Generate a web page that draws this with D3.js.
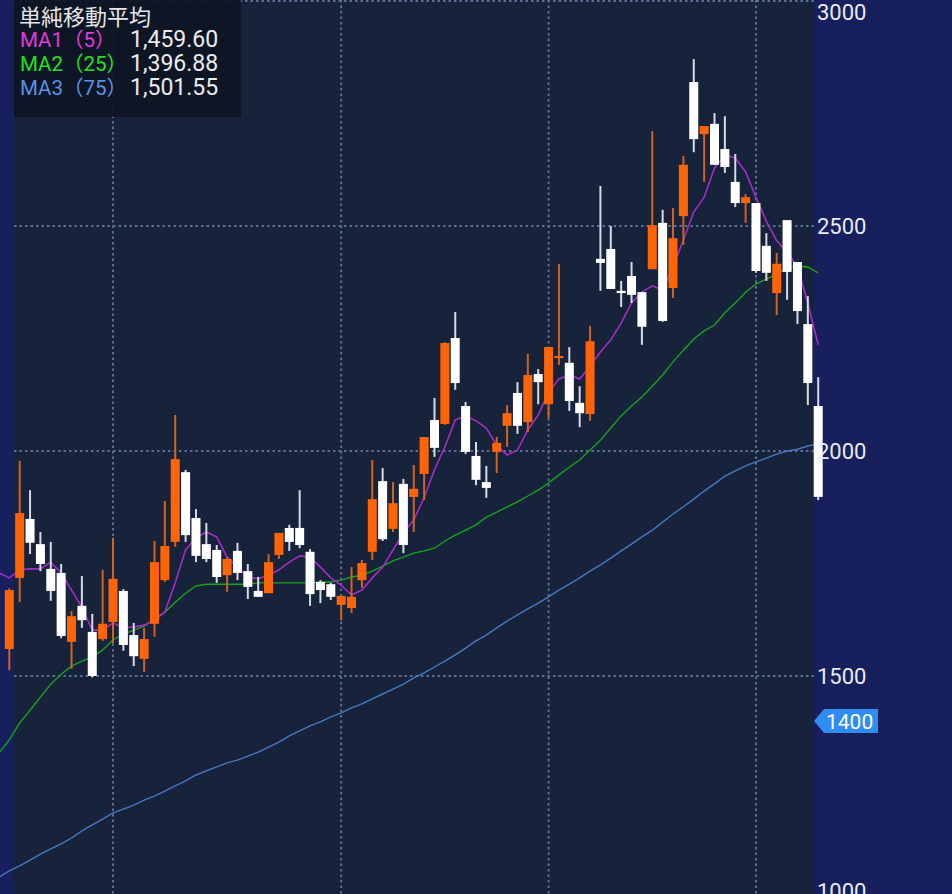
<!DOCTYPE html>
<html><head><meta charset="utf-8">
<script src="https://cdn.jsdelivr.net/npm/d3@7"></script>
<style>html,body{margin:0;padding:0;background:#171f5c;overflow:hidden}</style>
</head><body>
<svg id="c" width="952" height="894"></svg>
<script>
// ---- data ----
const opens  = [1560,1718,1849,1793,1738,1729,1576,1656,1598,1582,1620,1689,1591,1538,1616,1713,1798,1953,1851,1793,1780,1724,1778,1733,1689,1684,1769,1829,1829,1776,1709,1704,1658,1651,1713,1776,1933,1827,1927,1898,1949,2069,2060,2251,2100,1989,1931,1998,2056,2129,2064,2171,2104,2207,2196,2107,2082,2427,2449,2356,2389,2353,2404,2507,2362,2522,2820,2704,2727,2671,2598,2551,2551,2456,2351,2513,2420,2282,2100];
const highs  = [1695,1978,1913,1820,1798,1749,1644,1722,1638,1736,1807,1693,1618,1607,1800,1889,2080,1958,1871,1840,1791,1764,1796,1749,1720,1771,1818,1836,1913,1782,1713,1707,1678,1742,1758,1980,1962,1931,1938,1969,2031,2118,2242,2309,2109,2020,1967,2031,2102,2153,2216,2182,2231,2416,2231,2144,2278,2589,2500,2378,2420,2353,2711,2536,2540,2656,2871,2722,2751,2744,2660,2571,2551,2484,2440,2513,2420,2344,2164];
const lows   = [1513,1664,1771,1733,1667,1584,1516,1607,1497,1578,1573,1556,1522,1509,1587,1709,1787,1798,1753,1753,1707,1687,1713,1671,1676,1684,1760,1778,1784,1656,1662,1669,1624,1640,1696,1758,1800,1820,1773,1820,1891,1987,2058,2136,1993,1924,1896,1951,2009,2038,2042,2104,2073,2191,2089,2053,2067,2356,2360,2320,2329,2236,2404,2287,2340,2458,2664,2598,2636,2618,2542,2507,2396,2378,2302,2336,2282,2102,1891];
const closes = [1691,1862,1796,1749,1689,1589,1633,1624,1500,1616,1716,1569,1544,1582,1753,1789,1982,1813,1767,1760,1720,1760,1729,1698,1676,1753,1818,1798,1791,1682,1691,1676,1678,1676,1751,1893,1804,1884,1791,1916,2031,2007,2240,2151,1998,1936,1918,2018,2084,2056,2169,2153,2231,2211,2111,2084,2244,2418,2360,2351,2347,2276,2502,2289,2473,2636,2693,2722,2636,2631,2551,2564,2400,2396,2416,2398,2311,2151,1898];
// moving averages: first value belongs to the day just before the first visible candle
const ma1 = [1729,1718,1736,1738,1738,1753,1729,1691,1653,1602,1602,1618,1607,1609,1613,1624,1642,1707,1780,1807,1820,1809,1764,1742,1720,1716,1724,1736,1753,1767,1764,1742,1718,1702,1680,1691,1718,1742,1780,1818,1847,1896,1958,2009,2069,2078,2067,2051,2013,1991,2002,2047,2080,2131,2160,2169,2160,2189,2220,2247,2284,2329,2353,2367,2358,2409,2469,2531,2564,2629,2658,2651,2620,2564,2511,2467,2442,2409,2329,2236];
const ma2 = [1329,1358,1396,1424,1453,1482,1504,1522,1533,1542,1558,1580,1593,1602,1611,1627,1642,1664,1684,1700,1704,1704,1704,1704,1704,1707,1707,1707,1707,1707,1707,1709,1709,1713,1720,1724,1733,1744,1756,1764,1773,1778,1784,1800,1813,1824,1836,1853,1864,1876,1887,1900,1913,1929,1947,1964,1980,2002,2024,2051,2078,2100,2120,2144,2169,2198,2224,2249,2267,2280,2307,2329,2353,2371,2382,2393,2407,2411,2409,2396];
const ma3 = [1053,1067,1078,1091,1104,1116,1127,1140,1156,1169,1182,1196,1204,1213,1224,1233,1244,1256,1267,1280,1289,1298,1307,1313,1322,1331,1342,1353,1367,1378,1389,1398,1409,1418,1429,1438,1449,1460,1471,1482,1496,1507,1520,1533,1547,1562,1578,1591,1607,1622,1636,1649,1662,1676,1691,1704,1718,1733,1747,1762,1778,1793,1809,1824,1842,1860,1876,1893,1911,1927,1944,1956,1967,1976,1984,1993,2000,2004,2011,2016];
const monthStarts = [11, 33, 53, 73];          // day index of vertical grid lines
const yTicks = [1000, 1500, 2000, 2500, 3000];
const lastPrice = 1400;
const legendTitle = "単純移動平均";
const legendNames = ["MA1（5）", "MA2（25）", "MA3（75）"];
const legendValues = ["1,459.60", "1,396.88", "1,501.55"];

// ---- drawing ----
const svg = d3.select("#c");
const W = 952, H = 894;
const plotL = 14, plotR = 814;
const x = d3.scaleLinear().domain([1, 79]).range([9.3, 818.2]);
const y = d3.scaleLinear().domain([1000, 3000]).range([901, 1]);

svg.append("rect").attr("width", W).attr("height", H).attr("fill", "#171f5c");
svg.append("rect").attr("x", plotL).attr("y", 0).attr("width", plotR - plotL).attr("height", H).attr("fill", "#16233b");

const grid = svg.append("g").attr("stroke", "#5b6d93").attr("stroke-width", 2).attr("stroke-dasharray", "2.5,3");
grid.selectAll("line.h").data(yTicks).join("line")
  .attr("x1", plotL).attr("x2", plotR + 2)
  .attr("y1", d => Math.round(y(d))).attr("y2", d => Math.round(y(d)));
grid.selectAll("line.v").data(monthStarts).join("line")
  .attr("x1", d => x(d)).attr("x2", d => x(d)).attr("y1", 0).attr("y2", H);

// MA lines
const lineGen = arr => d3.line().x((d, i) => x(i)).y(d => y(d))(arr);
svg.append("path").attr("d", lineGen(ma3)).attr("fill", "none").attr("stroke", "#4a78c0").attr("stroke-width", 1.4);
svg.append("path").attr("d", lineGen(ma2)).attr("fill", "none").attr("stroke", "#19a21c").attr("stroke-width", 1.4);
svg.append("path").attr("d", lineGen(ma1)).attr("fill", "none").attr("stroke", "#a52cc4").attr("stroke-width", 1.6);

// candles
const days = d3.range(1, 80);
const up = i => closes[i - 1] >= opens[i - 1];
const cg = svg.append("g");
cg.selectAll("line").data(days).join("line")
  .attr("x1", d => x(d)).attr("x2", d => x(d))
  .attr("y1", d => y(highs[d - 1])).attr("y2", d => y(lows[d - 1]))
  .attr("stroke", d => up(d) ? "#d2621c" : "#d5dbe4").attr("stroke-width", 2);
const bw = 9;
cg.selectAll("rect").data(days).join("rect")
  .attr("x", d => x(d) - bw / 2).attr("width", bw)
  .attr("y", d => y(Math.max(opens[d - 1], closes[d - 1])))
  .attr("height", d => Math.max(2, Math.abs(y(opens[d - 1]) - y(closes[d - 1]))))
  .attr("fill", d => up(d) ? "#ff6406" : "#ffffff");

// y axis labels
svg.append("g").selectAll("text").data(yTicks).join("text")
  .attr("x", 817).attr("y", d => Math.max(12, Math.min(891, y(d))))
  .attr("dy", "0.36em")
  .attr("font-family", "Roboto, 'Noto Sans', sans-serif").attr("font-size", 22)
  .attr("fill", "#e8ebf2").text(d => d);

// last price badge
const by = y(lastPrice);
svg.append("path")
  .attr("d", `M${plotR},${by} L${plotR + 10},${by - 12} L${plotR + 64},${by - 12} L${plotR + 64},${by + 12} L${plotR + 10},${by + 12} Z`)
  .attr("fill", "#2f8cf0");
svg.append("text").attr("x", plotR + 12).attr("y", by).attr("dy", "0.36em")
  .attr("font-family", "Roboto, 'Noto Sans', sans-serif").attr("font-size", 21)
  .attr("fill", "#ffffff").text(lastPrice);

// legend
const lg = svg.append("g");
lg.append("rect").attr("x", 14).attr("y", 0).attr("width", 227).attr("height", 117).attr("fill", "#0e1524").attr("opacity", 0.93);
lg.append("text").attr("x", 19).attr("y", 25).attr("font-family", "'Noto Sans CJK JP', sans-serif")
  .attr("font-size", 22).attr("fill", "#e6e6e6").text(legendTitle);
const legColors = ["#e03ce0", "#22e022", "#5a92e6"];
legendNames.forEach((n, i) => {
  lg.append("text").attr("x", 20).attr("y", 47 + i * 24).attr("font-family", "Roboto, 'Noto Sans CJK JP', sans-serif")
    .attr("font-size", 20.5).attr("fill", legColors[i]).text(n);
  lg.append("text").attr("x", 130).attr("y", 47 + i * 24).attr("font-family", "Roboto, sans-serif")
    .attr("font-size", 23).attr("fill", "#ececec").text(legendValues[i]);
});
</script>
</body></html>
